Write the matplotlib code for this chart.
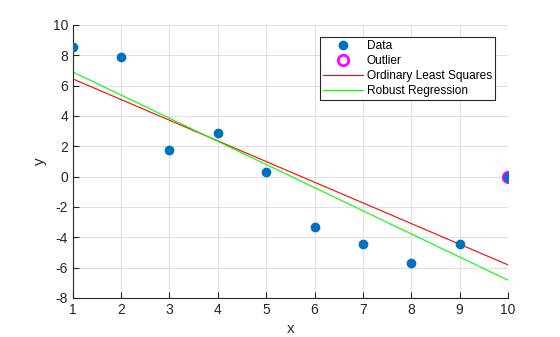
import numpy as np
import matplotlib.pyplot as plt
import matplotlib as mpl

mpl.rcParams['font.family'] = ['Liberation Sans', 'DejaVu Sans']
mpl.rcParams['axes.unicode_minus'] = False

# data
x = [1, 2, 3, 4, 5, 6, 7, 8, 9, 10]
y = [8.55, 7.87, 1.74, 2.86, 0.29, -3.34, -4.46, -5.71, -4.44, 0.0]
outlier_x = [10]
outlier_y = [0.0]
# fitted lines (end points)
fit_x = [1, 10]
ols_y = [6.44, -5.82]
robust_y = [6.9, -6.83]

fig = plt.figure(figsize=(5.6, 3.37), dpi=100)
ax = fig.add_axes([0.13, 0.116, 0.777, 0.81])

ax.plot(x, y, 'o', color='#0072BD', markersize=6, label='Data', zorder=3)
ax.plot(outlier_x, outlier_y, 'o', mfc='none', mec='#FF00FF', mew=2,
        markersize=7.5, label='Outlier', zorder=2)
ax.plot(fit_x, ols_y, '-', color='#FF0000', linewidth=0.8,
        label='Ordinary Least Squares')
ax.plot(fit_x, robust_y, '-', color='#00FF00', linewidth=0.8,
        label='Robust Regression')

ax.set_xlim(1, 10)
ax.set_ylim(-8, 10)
ax.set_xticks(range(1, 11))
ax.set_yticks(range(-8, 11, 2))
ax.grid(True, color='#dfdfdf', linewidth=0.7)
ax.set_axisbelow(True)
for s in ['top', 'right']:
    ax.spines[s].set_visible(False)
for s in ['left', 'bottom']:
    ax.spines[s].set_color('#262626')
    ax.spines[s].set_linewidth(0.8)
ax.tick_params(direction='in', length=4, width=0.8, labelsize=10,
               colors='#262626', labelcolor='#262626')
ax.set_xlabel('x', fontsize=11, color='#262626')
ax.set_ylabel('y', fontsize=11, color='#262626')

leg = ax.legend(loc='upper right', bbox_to_anchor=(0.97, 0.955), fontsize=8.6,
                fancybox=False, framealpha=1, edgecolor='#262626',
                handlelength=3.3, handletextpad=0.35, labelspacing=0.25,
                borderpad=0.25, borderaxespad=0)
leg.get_frame().set_linewidth(0.8)

fig.savefig('out.png', dpi=100)
